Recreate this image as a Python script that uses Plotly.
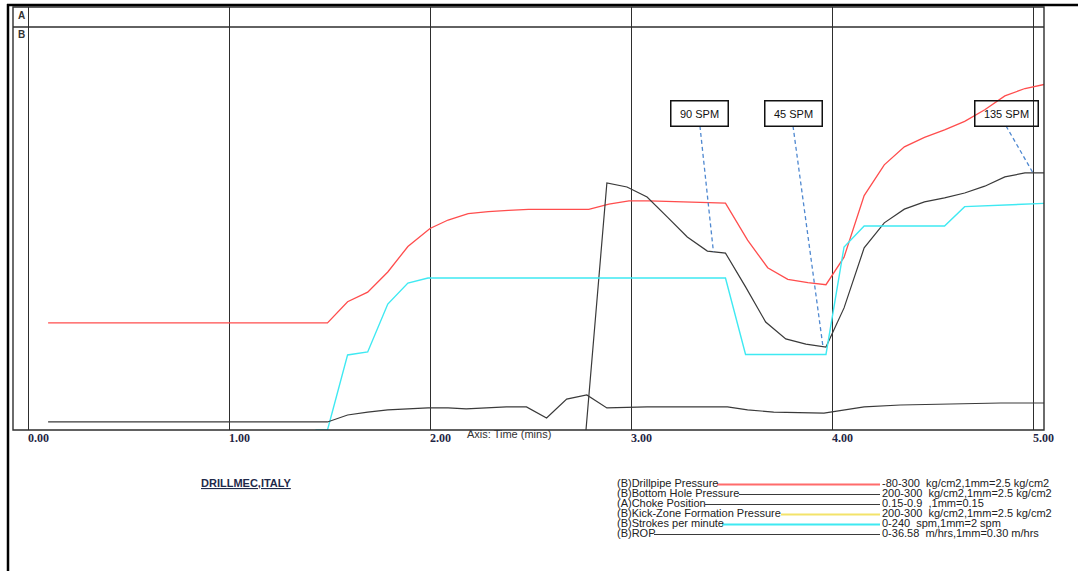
import plotly.graph_objects as go
import numpy as np

# ---------------- data ----------------
# (B) Drillpipe Pressure, kg/cm2  (panel scale -80..300)
dp_time = [0.10, 1.49, 1.59, 1.69, 1.79, 1.89, 2.00, 2.09, 2.19, 2.29, 2.39, 2.49, 2.79,
           2.89, 2.99, 3.09, 3.47, 3.58, 3.68, 3.78, 3.88, 3.97, 4.06, 4.16, 4.26, 4.36,
           4.46, 4.56, 4.66, 4.76, 4.86, 4.96, 5.06]
dp_val = [21, 21, 41, 50, 69, 93, 110, 118, 124, 126, 127, 128, 128,
          133, 136, 136, 134, 99, 73, 62, 59, 57, 83, 141, 170, 187,
          196, 203, 211, 222, 235, 242, 246]

# (B) Bottom Hole Pressure, kg/cm2 (panel scale 200..300)
bhp_time = [2.776, 2.88, 2.98, 3.08, 3.18, 3.28, 3.38, 3.47, 3.57, 3.67, 3.77, 3.87, 3.97,
            4.06, 4.16, 4.26, 4.36, 4.46, 4.56, 4.66, 4.76, 4.86, 4.96, 5.06]
bhp_val = [200, 261.3, 260.3, 257.8, 252.9, 247.9, 244.4, 243.9, 235.5, 226.8, 222.6, 221.3, 220.6,
           230.3, 245.2, 251.4, 254.8, 256.6, 257.6, 258.8, 260.5, 262.8, 263.8, 263.8]

# (B) Strokes per minute, spm (panel scale 0..240)
spm_time = [1.43, 1.49, 1.59, 1.69, 1.79, 1.89, 1.99, 3.47, 3.57, 3.97, 4.06, 4.16, 4.56, 4.66, 5.06]
spm_val = [0, 0, 44.7, 46.5, 75, 87.5, 90.5, 90.5, 45, 45, 109, 121.5, 121.5, 133, 135]

# (B) ROP, m/hrs (panel scale 0..36.58)
rop_time = [0.10, 1.49, 1.59, 1.69, 1.79, 1.89, 1.99, 2.09, 2.18, 2.28, 2.38, 2.48, 2.58,
            2.68, 2.78, 2.88, 3.08, 3.38, 3.48, 3.58, 3.71, 3.96, 4.06, 4.16, 4.34, 4.59, 4.84, 5.06]
rop_val = [0.73, 0.73, 1.36, 1.63, 1.82, 1.91, 2.0, 2.0, 1.91, 2.0, 2.09, 2.09, 1.09,
           2.81, 3.18, 2.0, 2.09, 2.09, 2.09, 1.82, 1.63, 1.54, 1.82, 2.09, 2.27, 2.36, 2.45, 2.45]

# (A) Choke Position (no visible samples)
choke_time = []
choke_val = []

tick_values = [0, 1, 2, 3, 4, 5]
tick_labels = ["0.00", "1.00", "2.00", "3.00", "4.00", "5.00"]

callout_labels = ["90 SPM", "45 SPM", "135 SPM"]
callout_box_time = [3.343, 3.806, 4.866]
callout_target_time = [3.41, 3.955, 5.0]

legend_names = ["(B)Drillpipe Pressure", "(B)Bottom Hole Pressure", "(A)Choke Position",
                "(B)Kick-Zone Formation Pressure", "(B)Strokes per minute", "(B)ROP"]
legend_ranges = ["-80-300  kg/cm2,1mm=2.5 kg/cm2", "200-300  kg/cm2,1mm=2.5 kg/cm2",
                 "0.15-0.9  ,1mm=0.15", "200-300  kg/cm2,1mm=2.5 kg/cm2",
                 "0-240  spm,1mm=2 spm", "0-36.58  m/hrs,1mm=0.30 m/hrs"]

# ---------------- styles / layout constants ----------------
W, H = 1078, 571
L, R, T, B = 13, 1044, 7, 430          # plot box in pixels
SPLIT = 27                              # A/B panel separator (px)
DB = (B - SPLIT) / (B - T)              # domain top of panel B
X0 = (L - 28) / 201.0
X1 = (R - 28) / 201.0

RED = "#ff4d4d"
CYAN = "#3fe9f2"
DARK = "#3a3a3a"
GRID = "#2e2e2e"
YELLOW = "#f3e36a"
DASH = "#4f88d0"


def pxx(x):
    return (x - L) / (R - L)


def pxy(y):
    return (B - y) / (B - T)


fig = go.Figure()
fig.add_trace(go.Scatter(x=dp_time, y=dp_val, mode="lines", yaxis="y",
                         line=dict(color=RED, width=1.3), name="Drillpipe Pressure"))
fig.add_trace(go.Scatter(x=spm_time, y=spm_val, mode="lines", yaxis="y3",
                         line=dict(color=CYAN, width=1.4), name="Strokes per minute"))
fig.add_trace(go.Scatter(x=bhp_time, y=bhp_val, mode="lines", yaxis="y2",
                         line=dict(color=DARK, width=1.2), name="Bottom Hole Pressure"))
fig.add_trace(go.Scatter(x=rop_time, y=rop_val, mode="lines", yaxis="y4",
                         line=dict(color=DARK, width=1.2), name="ROP"))
fig.add_trace(go.Scatter(x=choke_time, y=choke_val, mode="lines", xaxis="x2", yaxis="y5",
                         line=dict(color=DARK, width=1.2), name="Choke Position"))

# leader lines from callout boxes down to the bottom-hole-pressure curve
box_bottom_frac = (B - 126) / (B - SPLIT)
box_bottom_bhp = 200 + box_bottom_frac * 100
for bt, tt in zip(callout_box_time, callout_target_time):
    tv = float(np.interp(tt, bhp_time, bhp_val))
    fig.add_trace(go.Scatter(x=[bt, tt], y=[box_bottom_bhp, tv], mode="lines", yaxis="y2",
                             line=dict(color=DASH, width=1.3, dash="4px,3px"),
                             hoverinfo="skip"))

ann = []
# callout boxes
box_w = [56, 56, 62]
for lab, bt, bw in zip(callout_labels, callout_box_time, box_w):
    ann.append(dict(x=bt, xref="x", y=pxy(113.5), yref="paper", text=lab, showarrow=False,
                    xanchor="center", yanchor="middle", width=bw, height=24,
                    bordercolor="#111", borderwidth=1.5, borderpad=0,
                    font=dict(family="Liberation Sans, Arial", size=11, color="#111")))

# tick labels (left aligned on the grid lines)
for tv, tl in zip(tick_values, tick_labels):
    ann.append(dict(x=tv, xref="x", y=pxy(438), yref="paper", text="<b>" + tl + "</b>",
                    showarrow=False, xanchor="left", yanchor="middle", xshift=-2,
                    font=dict(family="Liberation Serif, Times New Roman", size=12, color="#1f2544")))

ann.append(dict(x=pxx(465), xref="paper", y=pxy(433.5), yref="paper", text="Axis: Time (mins)",
                showarrow=False, xanchor="left", yanchor="middle",
                font=dict(family="Liberation Sans, Arial", size=11, color="#333")))

ann.append(dict(x=pxx(199), xref="paper", y=pxy(483), yref="paper",
                text="<b><u>DRILLMEC,ITALY</u></b>", showarrow=False, xanchor="left",
                yanchor="middle", font=dict(family="Liberation Sans, Arial", size=11, color="#1f2a4a")))

ann.append(dict(x=pxx(21), xref="paper", y=pxy(15), yref="paper", text="<b>A</b>",
                showarrow=False, xanchor="center", yanchor="middle",
                font=dict(family="Liberation Sans, Arial", size=10, color="#333")))
ann.append(dict(x=pxx(21), xref="paper", y=pxy(35), yref="paper", text="<b>B</b>",
                showarrow=False, xanchor="center", yanchor="middle",
                font=dict(family="Liberation Sans, Arial", size=10, color="#333")))

# legend block
row_y = [483, 493, 503, 513, 523, 533]
text_end = [717, 739, 705, 781, 722, 654]
leg_colors = ["#ff6b6b", DARK, DARK, YELLOW, CYAN, DARK]
shapes = []
for name, rng, yy, xe, col in zip(legend_names, legend_ranges, row_y, text_end, leg_colors):
    ann.append(dict(x=pxx(615), xref="paper", y=pxy(yy), yref="paper", text=name,
                    showarrow=False, xanchor="left", yanchor="middle",
                    font=dict(family="Liberation Sans, Arial", size=11, color="#222")))
    ann.append(dict(x=pxx(880), xref="paper", y=pxy(yy), yref="paper", text=rng,
                    showarrow=False, xanchor="left", yanchor="middle",
                    font=dict(family="Liberation Sans, Arial", size=11, color="#222")))
    shapes.append(dict(type="line", xref="paper", yref="paper", x0=pxx(xe), x1=pxx(880),
                       y0=pxy(yy + 1.5), y1=pxy(yy + 1.5),
                       line=dict(color=col, width=2 if col != DARK else 1.2)))

# plot box, panel separator, outer frame
shapes.append(dict(type="rect", xref="paper", yref="paper", x0=0, x1=1, y0=0, y1=1,
                   line=dict(color=GRID, width=1.4)))
shapes.append(dict(type="line", xref="paper", yref="paper", x0=0, x1=1, y0=DB, y1=DB,
                   line=dict(color=GRID, width=1.4)))
shapes.append(dict(type="line", xref="paper", yref="paper", x0=pxx(8), x1=pxx(8),
                   y0=pxy(4), y1=pxy(575), line=dict(color="#000", width=2.5)))
shapes.append(dict(type="line", xref="paper", yref="paper", x0=pxx(7), x1=pxx(1082),
                   y0=pxy(5), y1=pxy(5), line=dict(color="#000", width=2.5)))

grid_x = dict(range=[X0, X1], tick0=0, dtick=1, showgrid=True, gridcolor=GRID, gridwidth=1.4,
              zeroline=False, showline=False, showticklabels=False, ticks="")
hidden = dict(visible=False, showgrid=False, zeroline=False)

fig.update_layout(
    width=W, height=H,
    margin=dict(l=L, r=W - R, t=T, b=H - B, pad=0),
    paper_bgcolor="white", plot_bgcolor="white",
    showlegend=False,
    xaxis=dict(anchor="y", domain=[0, 1], **grid_x),
    xaxis2=dict(anchor="y5", domain=[0, 1], matches="x", **grid_x),
    yaxis=dict(domain=[0, DB], range=[-80, 300], anchor="x", **hidden),
    yaxis2=dict(overlaying="y", range=[200, 300], anchor="x", **hidden),
    yaxis3=dict(overlaying="y", range=[0, 240], anchor="x", **hidden),
    yaxis4=dict(overlaying="y", range=[0, 36.58], anchor="x", **hidden),
    yaxis5=dict(domain=[DB, 1], range=[0.15, 0.9], anchor="x2", **hidden),
    annotations=ann,
    shapes=shapes,
)

fig.write_html("out.html")
